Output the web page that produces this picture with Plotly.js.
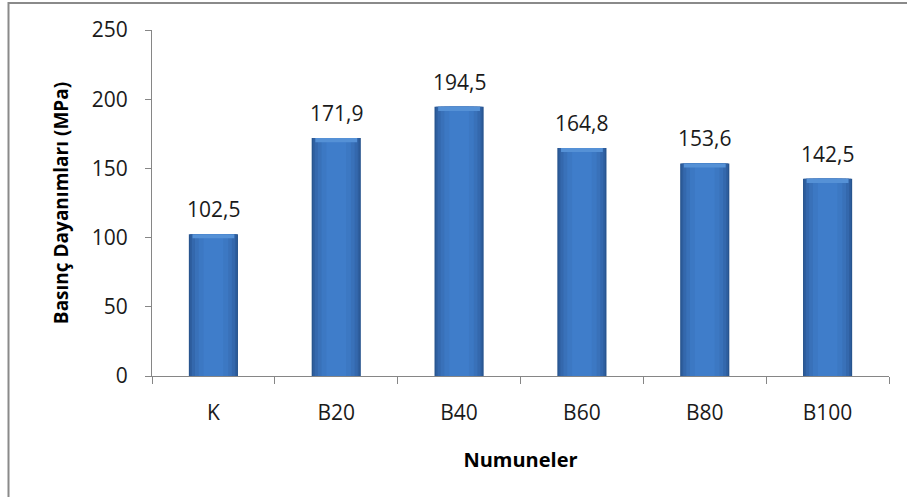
<!DOCTYPE html>
<html>
<head>
<meta charset="utf-8">
<script src="https://cdn.plot.ly/plotly-3.0.1.min.js"></script>
<style>
  html, body { margin: 0; padding: 0; background: #fff; }
  #chart { width: 907px; height: 497px; }
</style>
</head>
<body>
<div id="chart"></div>
<script>
// Numune kodları ve basınç dayanımları (MPa)
const categories = ['K', 'B20', 'B40', 'B60', 'B80', 'B100'];
const strengths = [102.5, 171.9, 194.5, 164.8, 153.6, 142.5];
const yTicks = [0, 50, 100, 150, 200, 250];

const FONT = '"Open Sans", Lato, sans-serif';

// Shaded column: several overlaid bars, darker toward the edges
const shades = [
  { w: 0.40, c: '#27548e' },
  { w: 0.38, c: '#2e5e9e' },
  { w: 0.35, c: '#3468ad' },
  { w: 0.30, c: '#3971b9' },
  { w: 0.24, c: '#3c78c3' },
  { w: 0.16, c: '#3f7dca' }
];

const traces = shades.map(s => ({
  type: 'bar',
  x: categories,
  y: strengths,
  width: s.w,
  marker: { color: s.c, line: { width: 0 } },
  hoverinfo: 'skip',
  showlegend: false
}));

// Light bevel strip along the top of each column
const bevel = 3;
traces.push({
  type: 'bar',
  x: categories,
  y: strengths.map(() => bevel),
  base: strengths.map(v => v - bevel),
  width: 0.34,
  marker: { color: '#5591d6', line: { width: 0 } },
  hoverinfo: 'skip',
  showlegend: false
});

// Value labels above the columns
const annotations = categories.map((c, i) => ({
  x: c,
  y: strengths[i],
  xref: 'x',
  yref: 'y',
  text: strengths[i].toFixed(1).replace('.', ','),
  showarrow: false,
  yanchor: 'bottom',
  yshift: 9,
  font: { family: FONT, size: 21, color: '#1a1a1a' }
}));

// Chart-area frame (left and top edges visible)
const plotL = 152, plotR = 889, plotT = 30, plotB = 376;
const pw = plotR - plotL, ph = plotB - plotT;
const shapes = [{
  type: 'rect',
  xref: 'paper', yref: 'paper',
  x0: (8.5 - plotL) / pw, x1: (960 - plotL) / pw,
  y0: (plotB - 560) / ph, y1: (plotB - 3) / ph,
  line: { color: '#8a8a8a', width: 2 },
  fillcolor: 'rgba(0,0,0,0)',
  layer: 'below'
}];

const layout = {
  width: 907,
  height: 497,
  margin: { l: plotL, r: 907 - plotR, t: plotT, b: 497 - plotB },
  paper_bgcolor: '#ffffff',
  plot_bgcolor: '#ffffff',
  barmode: 'overlay',
  separators: ',.',
  font: { family: FONT, size: 21, color: '#1a1a1a' },
  xaxis: {
    type: 'category',
    categoryorder: 'array',
    categoryarray: categories,
    showline: true,
    linecolor: '#868686',
    linewidth: 1,
    ticks: 'outside',
    tickson: 'boundaries',
    ticklen: 7,
    tickcolor: '#868686',
    ticklabelstandoff: 18,
    showgrid: false,
    zeroline: false,
    tickfont: { family: FONT, size: 21, color: '#1a1a1a' },
    title: {
      text: 'Numuneler',
      font: { family: FONT, size: 20, color: '#000', weight: 'bold' },
      standoff: 27
    }
  },
  yaxis: {
    range: [0, 250],
    tickvals: yTicks,
    ticktext: yTicks.map(String),
    showline: true,
    linecolor: '#868686',
    linewidth: 1,
    ticks: 'outside',
    ticklen: 6,
    tickcolor: '#868686',
    ticklabelstandoff: 13,
    showgrid: false,
    zeroline: false,
    tickfont: { family: FONT, size: 21, color: '#1a1a1a' },
    title: {
      text: 'Basınç Dayanımları (MPa)',
      font: { family: FONT, size: 19, color: '#000', weight: 'bold' },
      standoff: 18
    }
  },
  annotations: annotations,
  shapes: shapes
};

Plotly.newPlot('chart', traces, layout, { displayModeBar: false, staticPlot: true });
</script>
</body>
</html>
